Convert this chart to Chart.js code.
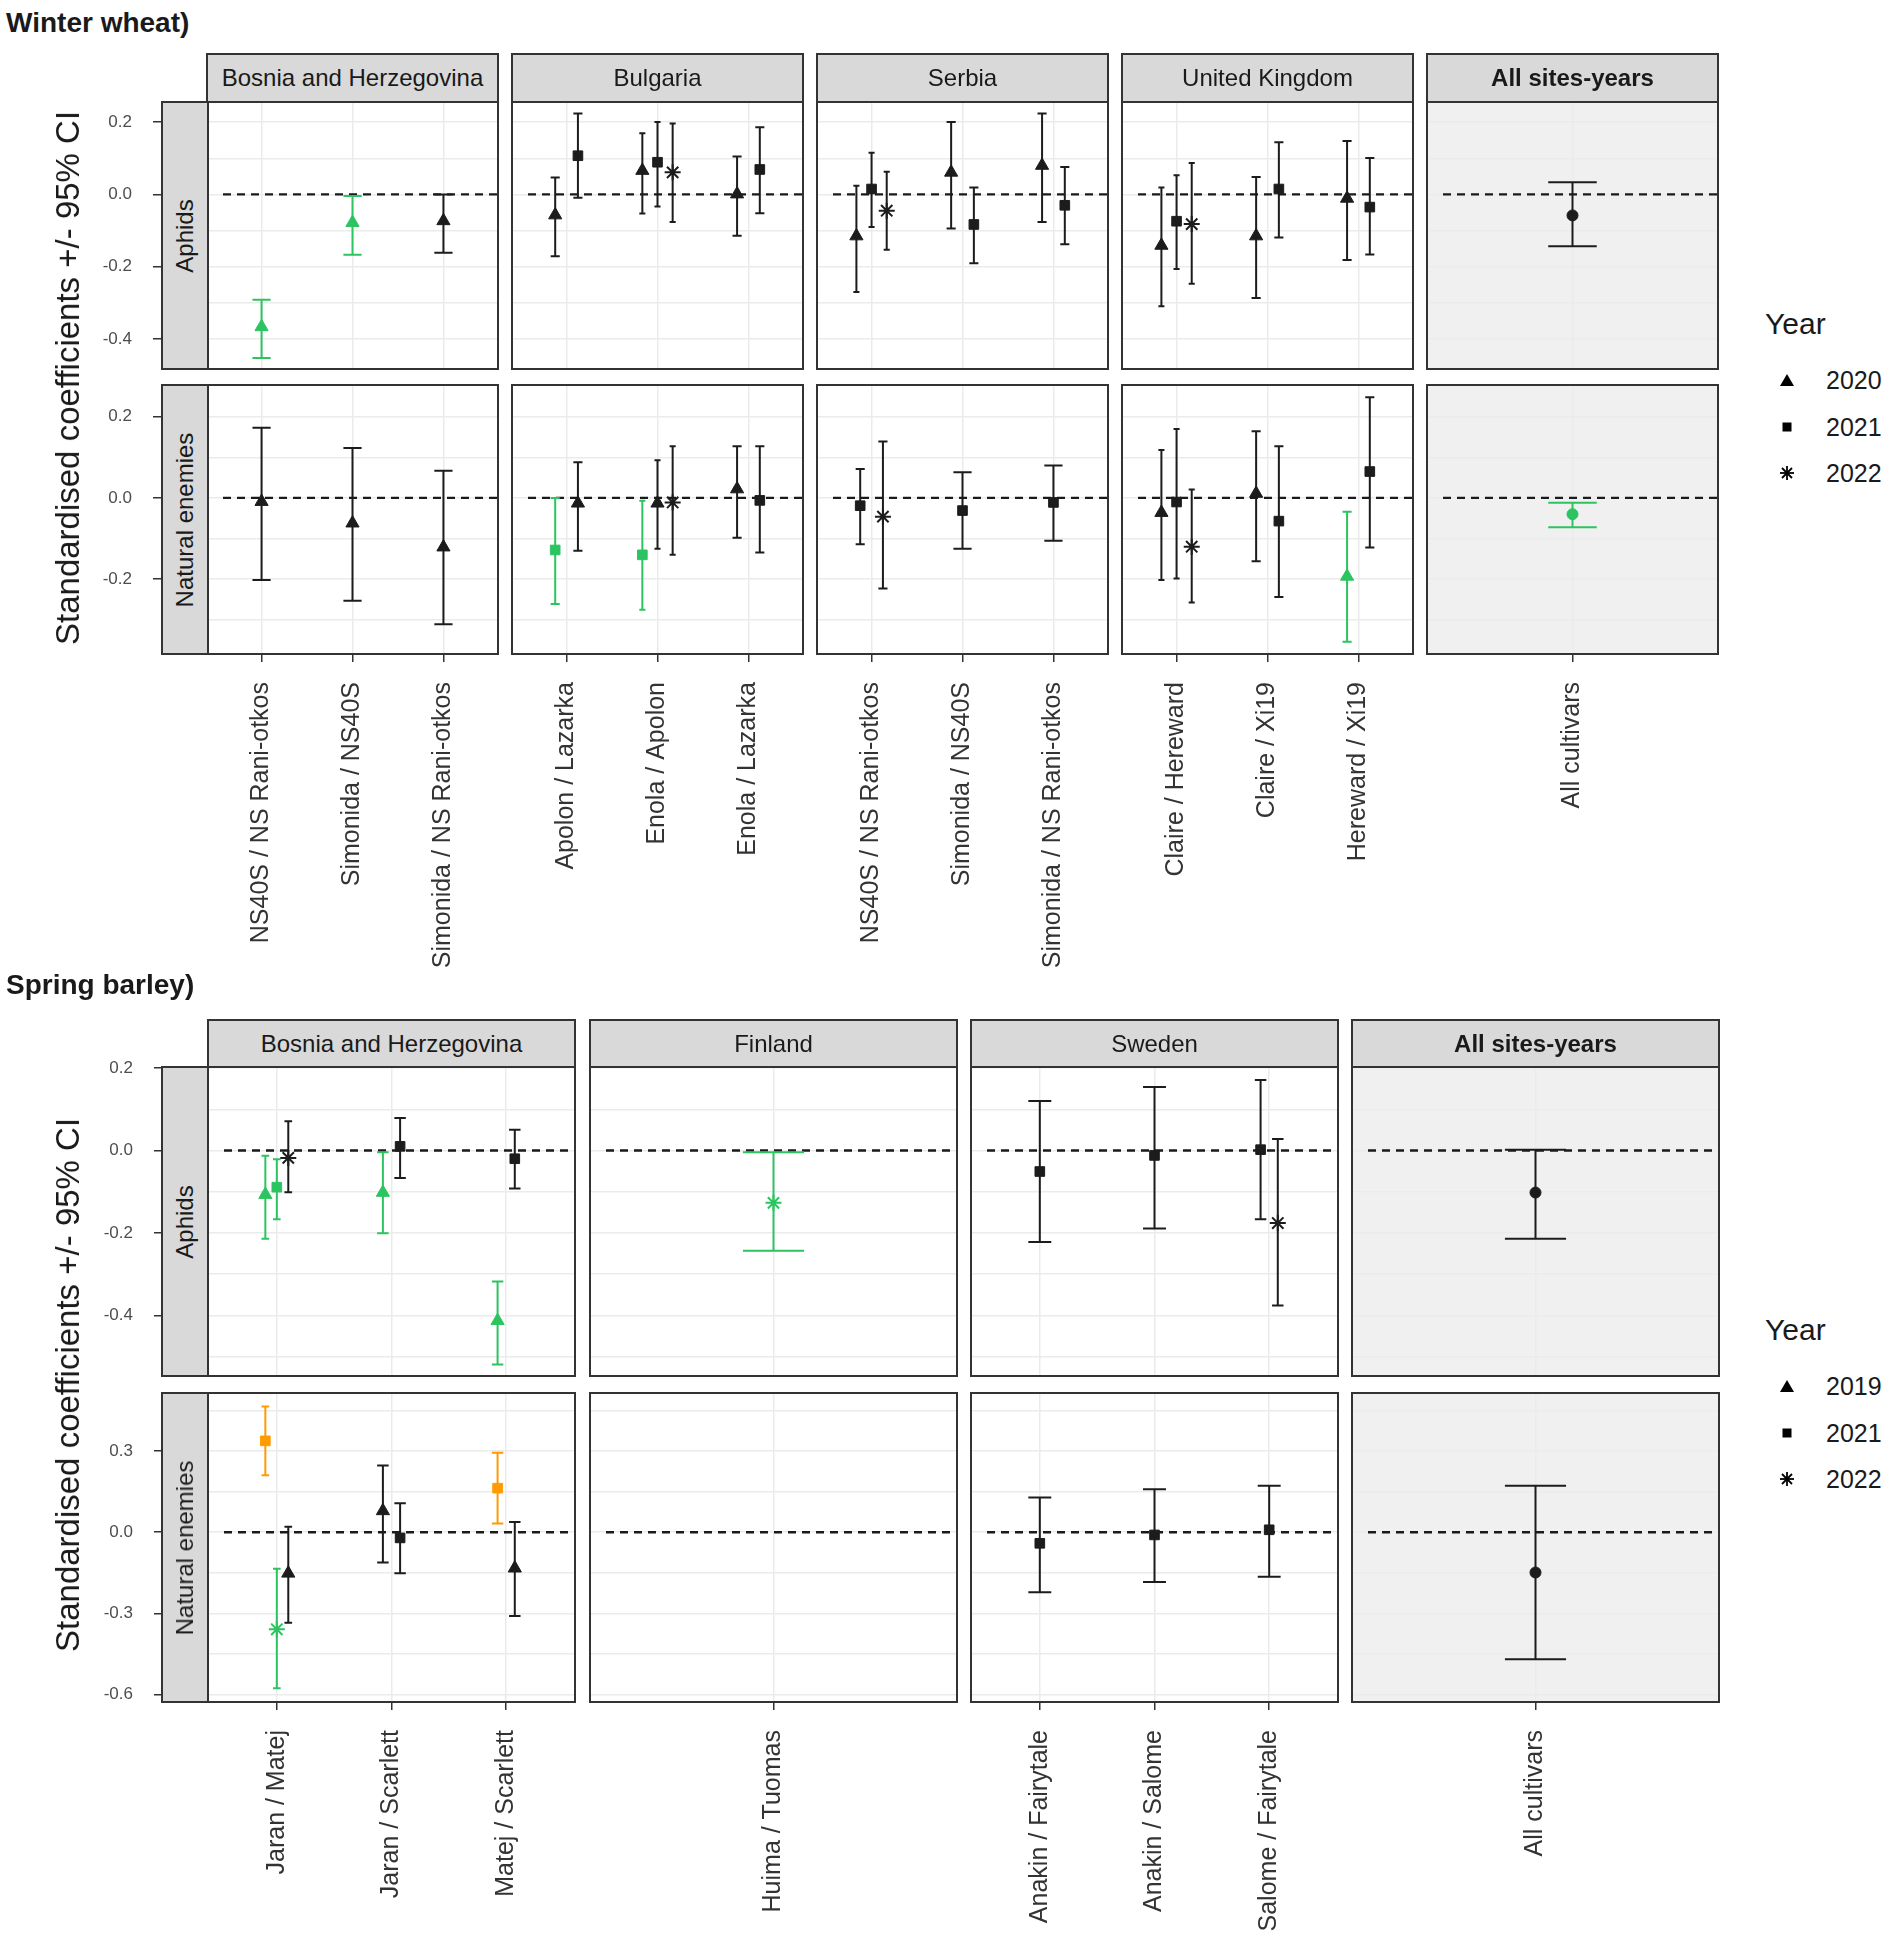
<!DOCTYPE html>
<html><head><meta charset="utf-8"><title>Standardised coefficients +/- 95% CI</title>
<script src="https://cdn.jsdelivr.net/npm/chart.js@4.4.1/dist/chart.umd.min.js"></script>
<style>
html,body{margin:0;padding:0;background:#fff}
body{position:relative;width:1890px;height:1940px;overflow:hidden;font-family:"Liberation Sans",Arial,sans-serif;color:#1a1a1a}
canvas{position:absolute;z-index:1}
.sec{position:absolute;left:6px;font-weight:bold;font-size:28px;line-height:28px;z-index:3;white-space:nowrap}
.colstrip{position:absolute;box-sizing:border-box;background:#d9d9d9;border:2px solid #333;display:flex;align-items:center;justify-content:center;font-size:24px;z-index:3;white-space:nowrap}
.rowstrip{position:absolute;box-sizing:border-box;background:#d9d9d9;border:2px solid #333;z-index:3;overflow:hidden}
.rowstrip span{position:absolute;left:50%;top:50%;transform:translate(-50%,-50%) rotate(-90deg);white-space:nowrap;font-size:24px}
.ytitle{position:absolute;transform:translate(-50%,-50%) rotate(-90deg);white-space:nowrap;font-size:33px;z-index:3}
.legtitle{position:absolute;font-size:30px;line-height:30px;z-index:3}
.legitem{position:absolute;font-size:25px;line-height:25px;z-index:3}
.legsym{position:absolute;z-index:3}
</style></head><body>
<script>
// ---------- DATA ----------
const wwYears = ['2020','2021','2022'];
const sbYears = ['2019','2021','2022'];
const responses = ['Aphids','Natural enemies'];
const yTitle = 'Standardised coefficients +/- 95% CI';

const wwCountries = ['Bosnia and Herzegovina','Bulgaria','Serbia','United Kingdom','All sites-years'];
const wwCultivars = [
  ['NS40S / NS Rani-otkos','Simonida / NS40S','Simonida / NS Rani-otkos'],
  ['Apolon / Lazarka','Enola / Apolon','Enola / Lazarka'],
  ['NS40S / NS Rani-otkos','Simonida / NS40S','Simonida / NS Rani-otkos'],
  ['Claire / Hereward','Claire / Xi19','Hereward / Xi19'],
  ['All cultivars']
];
const sbCountries = ['Bosnia and Herzegovina','Finland','Sweden','All sites-years'];
const sbCultivars = [
  ['Jaran / Matej','Jaran / Scarlett','Matej / Scarlett'],
  ['Huima / Tuomas'],
  ['Anakin / Fairytale','Anakin / Salome','Salome / Fairytale'],
  ['All cultivars']
];

const wwAphidsTicks = [-0.4,-0.2,0.0,0.2];
const wwEnemiesTicks = [-0.2,0.0,0.2];
const sbAphidsTicks = [-0.4,-0.2,0.0,0.2];
const sbEnemiesTicks = [-0.6,-0.3,0.0,0.3];

// [cultivar pair index, year (null = pooled), estimate, lower 95% CI, upper 95% CI, significance]
const wwAphidsBosnia = [
  [0,'2020',-0.366,-0.452,-0.291,'neg'],
  [1,'2020',-0.078,-0.167,-0.004,'neg'],
  [2,'2020',-0.073,-0.161,0.000,'ns']
];
const wwAphidsBulgaria = [
  [0,'2020',-0.057,-0.171,0.047,'ns'],
  [0,'2021',0.107,-0.009,0.224,'ns'],
  [1,'2020',0.066,-0.053,0.169,'ns'],
  [1,'2021',0.089,-0.033,0.200,'ns'],
  [1,'2022',0.061,-0.076,0.196,'ns'],
  [2,'2020',0.001,-0.114,0.105,'ns'],
  [2,'2021',0.069,-0.052,0.186,'ns']
];
const wwAphidsSerbia = [
  [0,'2020',-0.115,-0.270,0.024,'ns'],
  [0,'2021',0.015,-0.090,0.115,'ns'],
  [0,'2022',-0.045,-0.153,0.063,'ns'],
  [1,'2020',0.061,-0.094,0.200,'ns'],
  [1,'2021',-0.083,-0.190,0.019,'ns'],
  [2,'2020',0.080,-0.076,0.224,'ns'],
  [2,'2021',-0.030,-0.138,0.076,'ns']
];
const wwAphidsUK = [
  [0,'2020',-0.141,-0.309,0.019,'ns'],
  [0,'2021',-0.074,-0.206,0.053,'ns'],
  [0,'2022',-0.082,-0.247,0.087,'ns'],
  [1,'2020',-0.115,-0.286,0.048,'ns'],
  [1,'2021',0.015,-0.119,0.144,'ns'],
  [2,'2020',-0.011,-0.181,0.148,'ns'],
  [2,'2021',-0.035,-0.166,0.101,'ns']
];
const wwAphidsAll = [[0,null,-0.058,-0.143,0.034,'ns']];

const wwEnemiesBosnia = [
  [0,'2020',-0.009,-0.202,0.173,'ns'],
  [1,'2020',-0.062,-0.253,0.123,'ns'],
  [2,'2020',-0.121,-0.311,0.067,'ns']
];
const wwEnemiesBulgaria = [
  [0,'2021',-0.128,-0.261,0.000,'neg'],
  [0,'2020',-0.013,-0.130,0.088,'ns'],
  [1,'2021',-0.140,-0.275,-0.007,'neg'],
  [1,'2020',-0.013,-0.125,0.093,'ns'],
  [1,'2022',-0.011,-0.140,0.127,'ns'],
  [2,'2020',0.022,-0.098,0.127,'ns'],
  [2,'2021',-0.006,-0.134,0.127,'ns']
];
const wwEnemiesSerbia = [
  [0,'2021',-0.019,-0.114,0.071,'ns'],
  [0,'2022',-0.046,-0.223,0.139,'ns'],
  [1,'2021',-0.031,-0.125,0.063,'ns'],
  [2,'2021',-0.011,-0.105,0.080,'ns']
];
const wwEnemiesUK = [
  [0,'2020',-0.036,-0.202,0.118,'ns'],
  [0,'2021',-0.010,-0.198,0.170,'ns'],
  [0,'2022',-0.120,-0.257,0.021,'ns'],
  [1,'2020',0.011,-0.156,0.164,'ns'],
  [1,'2021',-0.057,-0.244,0.127,'ns'],
  [2,'2020',-0.193,-0.354,-0.034,'neg'],
  [2,'2021',0.065,-0.122,0.248,'ns']
];
const wwEnemiesAll = [[0,null,-0.040,-0.072,-0.012,'neg']];

const sbAphidsBosnia = [
  [0,'2019',-0.107,-0.214,-0.013,'neg'],
  [0,'2021',-0.089,-0.167,-0.021,'neg'],
  [0,'2022',-0.018,-0.101,0.071,'ns'],
  [1,'2019',-0.102,-0.201,-0.004,'neg'],
  [1,'2021',0.010,-0.067,0.079,'ns'],
  [2,'2019',-0.413,-0.519,-0.318,'neg'],
  [2,'2021',-0.020,-0.092,0.050,'ns']
];
const sbAphidsFinland = [[0,'2022',-0.127,-0.243,-0.004,'neg']];
const sbAphidsSweden = [
  [0,'2021',-0.051,-0.222,0.120,'ns'],
  [1,'2021',-0.012,-0.189,0.154,'ns'],
  [2,'2021',0.002,-0.167,0.171,'ns'],
  [2,'2022',-0.176,-0.376,0.028,'ns']
];
const sbAphidsAll = [[0,null,-0.102,-0.214,0.002,'ns']];

const sbEnemiesBosnia = [
  [0,'2021',0.338,0.211,0.465,'pos'],
  [0,'2022',-0.359,-0.577,-0.135,'neg'],
  [0,'2019',-0.152,-0.335,0.020,'ns'],
  [1,'2019',0.079,-0.112,0.247,'ns'],
  [1,'2021',-0.021,-0.152,0.107,'ns'],
  [2,'2021',0.163,0.032,0.294,'pos'],
  [2,'2019',-0.133,-0.310,0.038,'ns']
];
const sbEnemiesFinland = [];
const sbEnemiesSweden = [
  [0,'2021',-0.041,-0.222,0.128,'ns'],
  [1,'2021',-0.010,-0.184,0.159,'ns'],
  [2,'2021',0.009,-0.165,0.172,'ns']
];
const sbEnemiesAll = [[0,null,-0.149,-0.470,0.172,'ns']];

// ---------- STYLE / LAYOUT ----------
Chart.defaults.font.family = '"Liberation Sans", Arial, sans-serif';
const SHAPES = ['triangle','rect','star'];
const RADIUS = {triangle:7.6, rect:6.8, star:8, circle:5.5};
const COLORS = {ns:'#1c1c1c', neg:'#2cc460', pos:'#ff9b00'};
const GRID = '#ebebeb';

const sections = [
  {title:'Winter wheat)', titleTop:9, years:wwYears, countries:wwCountries, cultivars:wwCultivars,
   stripTop:53, colLeft:[207,512,817,1122,1427], colW:291, dodge:0.5, cap:0.2, legendY:324,
   rows:[
     {top:102, h:267, range:[-0.4825,0.2555], ticks:wwAphidsTicks,
      data:[wwAphidsBosnia,wwAphidsBulgaria,wwAphidsSerbia,wwAphidsUK,wwAphidsAll]},
     {top:385, h:269, range:[-0.384,0.278], ticks:wwEnemiesTicks,
      data:[wwEnemiesBosnia,wwEnemiesBulgaria,wwEnemiesSerbia,wwEnemiesUK,wwEnemiesAll]}
   ]},
  {title:'Spring barley)', titleTop:971, years:sbYears, countries:sbCountries, cultivars:sbCultivars,
   stripTop:1019, colLeft:[208,590,971,1352], colW:367, dodge:0.3, cap:0.2, legendY:1330,
   rows:[
     {top:1067, h:309, range:[-0.547,0.2025], ticks:sbAphidsTicks,
      data:[sbAphidsBosnia,sbAphidsFinland,sbAphidsSweden,sbAphidsAll]},
     {top:1393, h:309, range:[-0.628,0.515], ticks:sbEnemiesTicks,
      data:[sbEnemiesBosnia,sbEnemiesFinland,sbEnemiesSweden,sbEnemiesAll]}
   ]}
];

function buildPoints(rows, years, dodge, cap){
  const counts = {}, seen = {};
  rows.forEach(r => { counts[r[0]] = (counts[r[0]] || 0) + 1; });
  return rows.map(r => {
    const [c, yr, est, lo, hi, sig] = r;
    const n = counts[c];
    const k = (seen[c] === undefined) ? 0 : seen[c] + 1;
    seen[c] = k;
    return {
      x: c + 1 + (k - (n - 1) / 2) * dodge / n,
      y: est, lo: lo, hi: hi, half: cap / n / 2,
      shape: yr === null ? 'circle' : SHAPES[years.indexOf(yr)],
      color: COLORS[sig]
    };
  });
}

const decoPlugin = {
  id: 'deco',
  beforeDraw(chart, args, opts) {
    const a = chart.chartArea, ctx = chart.ctx;
    ctx.save(); ctx.fillStyle = opts.bg; ctx.fillRect(a.left, a.top, a.width, a.height); ctx.restore();
  },
  beforeDatasetsDraw(chart) {
    const {ctx, chartArea: a, scales: {x, y}} = chart;
    ctx.save();
    ctx.beginPath(); ctx.rect(a.left, a.top, a.width, a.height); ctx.clip();
    const y0 = y.getPixelForValue(0);
    ctx.setLineDash([8, 6]); ctx.lineWidth = 2.3; ctx.strokeStyle = '#1a1a1a';
    ctx.beginPath(); ctx.moveTo(a.left + 16, y0); ctx.lineTo(a.right, y0); ctx.stroke();
    ctx.setLineDash([]);
    ctx.lineWidth = 2;
    chart.data.datasets[0].data.forEach(p => {
      const px = x.getPixelForValue(p.x), pl = x.getPixelForValue(p.x - p.half), pr = x.getPixelForValue(p.x + p.half);
      const yl = y.getPixelForValue(p.lo), yh = y.getPixelForValue(p.hi);
      ctx.strokeStyle = p.color;
      ctx.beginPath();
      ctx.moveTo(px, yl); ctx.lineTo(px, yh);
      ctx.moveTo(pl, yl); ctx.lineTo(pr, yl);
      ctx.moveTo(pl, yh); ctx.lineTo(pr, yh);
      ctx.stroke();
    });
    ctx.restore();
  },
  afterDraw(chart) {
    const a = chart.chartArea, ctx = chart.ctx;
    ctx.save(); ctx.strokeStyle = '#333'; ctx.lineWidth = 2;
    ctx.strokeRect(a.left, a.top, a.width, a.height); ctx.restore();
  }
};

function near(v, list){ return list.some(m => Math.abs(m - v) < 1e-6); }

function makePanel(sec, ri, ci){
  const row = sec.rows[ri];
  const cats = sec.cultivars[ci];
  const first = ci === 0, last = ri === sec.rows.length - 1;
  const leftW = first ? 127 : 2, topPad = 12, bottomH = last ? 320 : 2;
  const L = sec.colLeft[ci], W = sec.colW;
  const cw = leftW + W + 2, ch = topPad + row.h + bottomH;
  const cv = document.createElement('canvas');
  cv.width = cw; cv.height = ch;
  cv.style.left = (L - leftW) + 'px'; cv.style.top = (row.top - topPad) + 'px';
  cv.style.width = cw + 'px'; cv.style.height = ch + 'px';
  document.body.appendChild(cv);

  const majors = row.ticks;
  const step = majors[1] - majors[0];
  const allTicks = [];
  for (let v = majors[0] - step * 2; v <= majors[majors.length - 1] + step * 2 + 1e-9; v += step / 2) {
    const r = Math.round(v * 1000) / 1000;
    if (r >= row.range[0] && r <= row.range[1]) allTicks.push(r);
  }
  const pts = buildPoints(row.data[ci], sec.years, sec.dodge, sec.cap);
  const allSites = ci === sec.cultivars.length - 1;

  new Chart(cv, {
    type: 'scatter',
    data: { datasets: [{
      data: pts,
      pointStyle: pts.map(p => p.shape),
      pointRadius: pts.map(p => RADIUS[p.shape]),
      pointHoverRadius: pts.map(p => RADIUS[p.shape]),
      pointBackgroundColor: pts.map(p => p.color),
      pointBorderColor: pts.map(p => p.color),
      pointBorderWidth: pts.map(p => p.shape === 'star' ? 2 : 1),
      showLine: false
    }]},
    plugins: [decoPlugin],
    options: {
      responsive: false, animation: false, events: [],
      layout: { autoPadding: false, padding: { top: topPad, right: 2, left: 0, bottom: 0 } },
      plugins: { legend: { display: false }, tooltip: { enabled: false }, deco: { bg: allSites ? '#f0f0f0' : '#ffffff' } },
      scales: {
        x: {
          type: 'linear', min: 0.4, max: cats.length + 0.6,
          afterBuildTicks: s => { s.ticks = cats.map((_, i) => ({ value: i + 1 })); },
          afterFit: s => { s.height = bottomH; s.paddingLeft = 0; s.paddingRight = 0; s.paddingTop = 0; s.paddingBottom = 0; },
          ticks: { display: last, autoSkip: false, minRotation: 90, maxRotation: 90, padding: 20,
                   font: { size: 25 }, color: '#333', callback: v => cats[Math.round(v) - 1] },
          grid: { color: GRID, lineWidth: 1.5, drawTicks: last, tickLength: 8, tickColor: '#333', tickWidth: 1.5 },
          border: { display: false }
        },
        y: {
          type: 'linear', min: row.range[0], max: row.range[1],
          afterBuildTicks: s => { s.ticks = allTicks.map(v => ({ value: v })); },
          afterFit: s => { s.width = leftW; s.paddingTop = 0; s.paddingBottom = 0; s.paddingLeft = 0; s.paddingRight = 0; },
          ticks: { display: first, autoSkip: false, padding: 21, font: { size: 17 }, color: '#4d4d4d',
                   callback: v => near(v, majors) ? (Math.abs(v) < 1e-9 ? '0.0' : v.toFixed(1)) : '' },
          grid: { color: GRID, lineWidth: 1.5, drawTicks: first, tickLength: 54, tickWidth: 1.5,
                  tickColor: c => (c.tick && near(c.tick.value, majors)) ? '#333' : 'rgba(0,0,0,0)' },
          border: { display: false }
        }
      }
    }
  });
}

function el(cls, css, html){
  const d = document.createElement('div'); d.className = cls; d.style.cssText = css; d.innerHTML = html;
  document.body.appendChild(d); return d;
}

function legendSymbol(shape){
  if (shape === 'triangle') return '<svg width="18" height="16"><polygon points="9,2 16,14 2,14" fill="#000"/></svg>';
  if (shape === 'rect') return '<svg width="18" height="16"><rect x="4.5" y="3.5" width="9" height="9" fill="#000"/></svg>';
  return '<svg width="18" height="16"><g stroke="#000" stroke-width="1.8"><line x1="9" y1="1" x2="9" y2="15"/><line x1="2" y1="8" x2="16" y2="8"/><line x1="4" y1="3" x2="14" y2="13"/><line x1="14" y1="3" x2="4" y2="13"/></g></svg>';
}

sections.forEach(sec => {
  el('sec', 'top:' + sec.titleTop + 'px', sec.title);
  sec.rows.forEach((row, ri) => {
    sec.cultivars.forEach((_, ci) => makePanel(sec, ri, ci));
    el('rowstrip', 'left:161px;top:' + (row.top - 1) + 'px;width:48px;height:' + (row.h + 2) + 'px', '<span>' + responses[ri] + '</span>');
  });
  sec.countries.forEach((name, ci) => {
    const bold = ci === sec.countries.length - 1 ? 'font-weight:bold;' : '';
    el('colstrip', bold + 'left:' + (sec.colLeft[ci] - 1) + 'px;top:' + sec.stripTop + 'px;width:' + (sec.colW + 2) + 'px;height:' + (sec.rows[0].top - sec.stripTop + 1) + 'px', name);
  });
  const r0 = sec.rows[0], r1 = sec.rows[sec.rows.length - 1];
  el('ytitle', 'left:68px;top:' + ((r0.top + r1.top + r1.h) / 2) + 'px', yTitle);
  // legend
  el('legtitle', 'left:1765px;top:' + (sec.legendY - 15) + 'px', 'Year');
  sec.years.forEach((yr, i) => {
    const cy = sec.legendY + 56 + i * 46.5;
    el('legsym', 'left:1778px;top:' + (cy - 8) + 'px', legendSymbol(SHAPES[i]));
    el('legitem', 'left:1826px;top:' + (cy - 12) + 'px', yr);
  });
});
</script>
</body></html>
